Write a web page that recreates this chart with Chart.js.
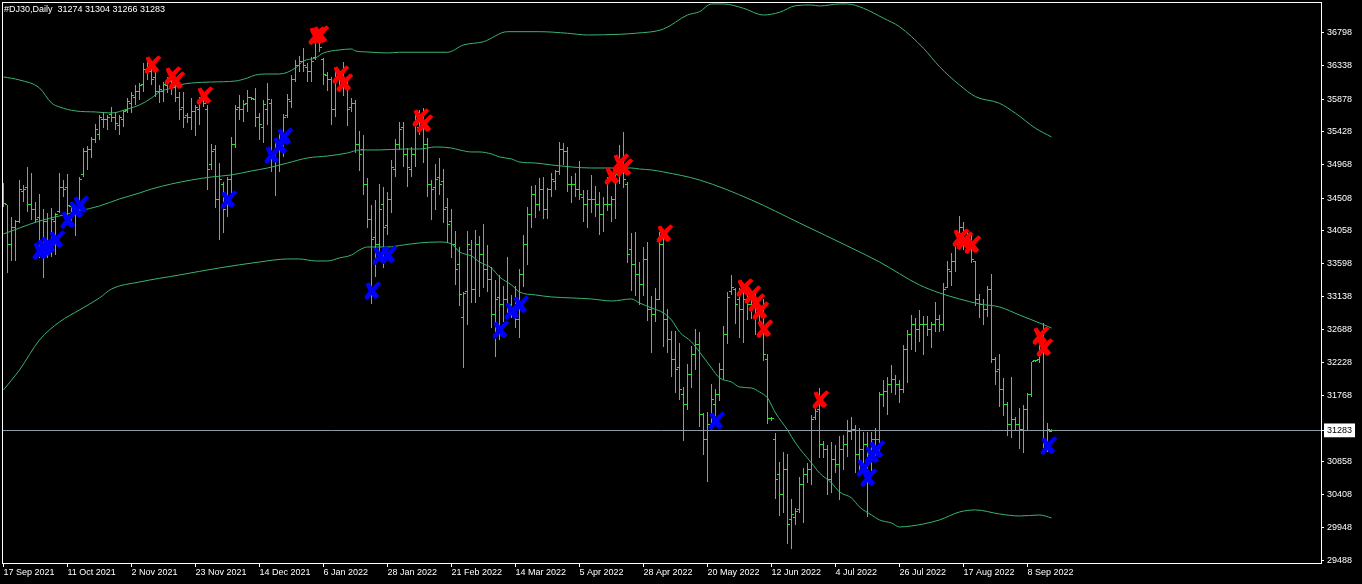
<!DOCTYPE html>
<html>
<head>
<meta charset="utf-8">
<script src="https://cdn.jsdelivr.net/npm/chart.js@4.4.0/dist/chart.umd.min.js"></script>
<style>
  html, body { margin: 0; padding: 0; background: #000; }
  #wrap { position: relative; width: 1362px; height: 584px; background: #000; overflow: hidden; }
  #title { position: absolute; left: 4px; top: 3px; line-height: 12px; color: #fff;
           font-family: "Liberation Sans", Arial, sans-serif; font-size: 9px; white-space: pre; }
</style>
</head>
<body>
<div id="wrap">
  <canvas id="djChart" width="1362" height="584"></canvas>
  <div id="title"></div>
</div>
<script>
// x axis labels, one every 16 bars
const tickLabels = ["17 Sep 2021", "11 Oct 2021", "2 Nov 2021", "23 Nov 2021", "14 Dec 2021", "6 Jan 2022",
  "28 Jan 2022", "21 Feb 2022", "14 Mar 2022", "5 Apr 2022", "28 Apr 2022", "20 May 2022", "12 Jun 2022",
  "4 Jul 2022", "26 Jul 2022", "17 Aug 2022", "8 Sep 2022"];
const tickIdx = [0, 16, 32, 48, 64, 80, 96, 112, 128, 144, 160, 176, 192, 208, 224, 240, 256];

// price scale labels
const yTicks = [36798, 36338, 35878, 35428, 34968, 34508, 34058, 33598, 33138, 32688, 32228, 31768,
  30858, 30408, 29948, 29488];

// daily bars
const opens = [
  34675, 34412, 33858, 34093, 34176, 34592, 34647, 34412, 34343, 34232, 33789, 34176, 33858, 34176, 34315, 34647, 34647, 34384, 34288, 34315,
  34828, 35146, 35174, 35312, 35382, 35589, 35589, 35659, 35617, 35506, 35589, 35714, 35811, 35894, 35977, 36074, 36282, 36254, 36171, 35977,
  35977, 36060, 36115, 36032, 35894, 35755, 35645, 35617, 35700, 35728, 35866, 35728, 34966, 35174, 34481, 34689, 34412, 34758, 35243, 35755,
  35728, 35824, 35894, 35866, 35617, 35478, 35728, 35811, 35063, 35174, 35243, 35645, 35838, 36143, 36337, 36392, 36309, 36254, 36448, 36697,
  36420, 36199, 36143, 35728, 36199, 36115, 36088, 35755, 35811, 35243, 35174, 34689, 34204, 33955, 33858, 34412, 34121, 34481, 34897, 35243,
  35478, 35105, 34897, 35105, 35478, 35617, 35243, 34689, 34647, 34786, 34730, 34370, 34176, 33858, 33581, 32847, 33207, 33789, 33235, 33858,
  33720, 33512, 33373, 32889, 33124, 33027, 33096, 33027, 32958, 32819, 33443, 33858, 34274, 34551, 34412, 34620, 34343, 34620, 34730, 34869,
  35174, 35146, 34689, 34689, 34620, 34509, 34412, 34481, 34481, 34412, 34274, 34412, 34412, 34481, 34828, 35035, 34689, 33789, 33581, 33443,
  33304, 33650, 32958, 32889, 33096, 33858, 32819, 32542, 32265, 32154, 31781, 31642, 32058, 32335, 32473, 31504, 31157, 31365, 31642, 31781,
  32127, 32612, 33207, 33235, 33096, 32958, 33096, 33027, 33096, 32889, 32958, 32265, 31448, 31157, 30673, 30396, 30742, 30049, 30077, 30188,
  30534, 30673, 30742, 31462, 31573, 31088, 31019, 30603, 30880, 30811, 31019, 31088, 31268, 31296, 30950, 31019, 31088, 30950, 31157, 31157,
  31781, 31822, 31919, 31988, 31919, 31850, 32404, 32612, 32750, 32681, 32750, 32750, 32681, 32750, 32819, 32750, 33262, 33484, 33622, 33858,
  34093, 33955, 33927, 33622, 33096, 33027, 32958, 33235, 32265, 32127, 31850, 31642, 31365, 31434, 31365, 31296, 31573, 31781, 32251, 32265,
  32542, 31088, 31274];
const highs = [
  34716, 34412, 34246, 34204, 34758, 34689, 34938, 34855, 34453, 34565, 34356, 34301, 34370, 34301, 34855, 34758, 34842, 34453, 34412, 34800,
  35201, 35229, 35354, 35534, 35659, 35700, 35659, 35769, 35700, 35659, 35728, 35894, 35977, 36074, 36101, 36378, 36448, 36323, 36254, 36074,
  36115, 36185, 36254, 36143, 35977, 35977, 35686, 35894, 35797, 35908, 35894, 35797, 35257, 35243, 34993, 34730, 34800, 35354, 35797, 35936,
  35866, 36005, 35908, 36032, 35686, 35866, 36101, 35880, 35312, 35409, 35673, 35950, 36213, 36420, 36476, 36586, 36378, 36462, 36808, 36836,
  36448, 36254, 36185, 36309, 36254, 36392, 36171, 35894, 35866, 35437, 35382, 34786, 34412, 34481, 34703, 34661, 34592, 35035, 35326, 35561,
  35561, 35201, 35215, 35686, 35728, 35755, 35340, 34758, 34980, 35063, 34910, 34509, 34356, 34052, 33830, 33207, 34052, 33927, 34066, 33983,
  34149, 33858, 33553, 33373, 33443, 33290, 33692, 33166, 33290, 33525, 33997, 34384, 34675, 34689, 34786, 34800, 34647, 34855, 34897, 35284,
  35270, 35215, 34814, 34855, 35021, 34620, 34620, 34828, 34675, 34592, 34523, 34800, 34537, 34924, 35243, 35423, 34730, 34024, 34038, 33622,
  33830, 33899, 33152, 33262, 34038, 33997, 32971, 32667, 32667, 32500, 31891, 32210, 32459, 32694, 32653, 31531, 31545, 31933, 31863, 32223,
  32736, 33207, 33443, 33262, 33262, 33331, 33318, 33193, 33207, 32999, 33110, 32349, 31476, 31254, 30852, 30991, 30963, 30340, 30215, 30645,
  30769, 30838, 31504, 31614, 31877, 31143, 31088, 31129, 31088, 31213, 31226, 31434, 31476, 31365, 31324, 31268, 31268, 31268, 31324, 31822,
  31988, 32030, 32196, 32058, 31988, 32473, 32681, 32889, 32847, 32958, 32875, 32875, 32791, 33068, 32889, 33331, 33636, 33747, 33927, 34260,
  34176, 34066, 34024, 33636, 33180, 33110, 33290, 33456, 32307, 32349, 32016, 31683, 32030, 31476, 31600, 31642, 31808, 32237, 32265, 32612,
  32778, 31392, 31304];
const lows = [
  34384, 33470, 33636, 33636, 34162, 34453, 34315, 34204, 34162, 33678, 33401, 33678, 33692, 33720, 34301, 34523, 34260, 34121, 33983, 34246,
  34800, 34897, 35063, 35270, 35312, 35478, 35451, 35561, 35451, 35382, 35492, 35686, 35686, 35797, 35866, 35977, 36143, 36074, 35908, 35824,
  35838, 35963, 35936, 35838, 35589, 35478, 35547, 35451, 35368, 35520, 35769, 34620, 34897, 34370, 33927, 34024, 34246, 34578, 35201, 35589,
  35561, 35700, 35866, 35492, 35312, 35270, 35520, 34869, 34537, 34869, 35077, 35617, 35755, 36115, 36254, 36254, 36115, 36115, 36420, 36531,
  36074, 35991, 35520, 35631, 35977, 35922, 35506, 35700, 35132, 34883, 34551, 34093, 33041, 33415, 33678, 33539, 33997, 34301, 34800, 35174,
  34938, 34661, 34800, 34938, 35382, 34993, 34523, 34204, 34343, 34551, 34162, 33885, 33678, 33304, 33013, 32154, 32750, 33054, 33054, 33138,
  33262, 33207, 32708, 32307, 32542, 32791, 32916, 32847, 32708, 32570, 33276, 33581, 34093, 34232, 34329, 34218, 34218, 34523, 34620, 34828,
  34966, 34592, 34439, 34523, 34481, 34176, 34093, 34301, 34246, 33997, 34038, 34329, 34176, 34218, 34703, 34647, 33608, 33221, 33152, 33027,
  33152, 32805, 32362, 32791, 33096, 32445, 32362, 32030, 31808, 31711, 31143, 31573, 31877, 32127, 31337, 30950, 30575, 31296, 31462, 31697,
  31988, 32487, 33166, 32764, 32570, 32500, 32819, 32833, 32612, 32750, 32251, 31379, 31420, 30339, 30104, 30146, 29717, 29648, 29980, 30146,
  30007, 30562, 30534, 31434, 30908, 30908, 30396, 30423, 30700, 30326, 30742, 30922, 31157, 30700, 30700, 30811, 30091, 30700, 30880, 30922,
  31614, 31504, 31808, 31781, 31669, 31808, 31946, 32404, 32376, 32514, 32335, 32597, 32431, 32653, 32653, 32667, 33262, 33290, 33484, 33789,
  33789, 33747, 33608, 33013, 32847, 32750, 32861, 32224, 31919, 31614, 31490, 31212, 31185, 31296, 31033, 30977, 31296, 31753, 32237, 32224,
  30963, 30991, 31266];
const closes = [
  34426, 33858, 34093, 34176, 34620, 34620, 34412, 34343, 34204, 33789, 34176, 33858, 34204, 34274, 34647, 34620, 34398, 34288, 34315, 34758,
  35146, 35174, 35312, 35451, 35617, 35589, 35617, 35617, 35534, 35617, 35700, 35838, 35922, 35977, 36060, 36282, 36254, 36143, 35977, 36005,
  36074, 36115, 36032, 35894, 35728, 35617, 35617, 35700, 35755, 35866, 35811, 34897, 35146, 34481, 34758, 34343, 34758, 35243, 35728, 35728,
  35797, 35894, 35880, 35617, 35520, 35797, 35866, 35035, 35174, 35312, 35617, 35866, 36143, 36337, 36392, 36337, 36254, 36392, 36669, 36586,
  36213, 36143, 35728, 36171, 36143, 36074, 35728, 35811, 35243, 35105, 34689, 34204, 33927, 33858, 34343, 34093, 34481, 34924, 35243, 35451,
  35105, 34924, 35105, 35520, 35589, 35243, 34689, 34620, 34758, 34689, 34343, 34135, 33858, 33512, 33166, 33180, 33858, 33235, 33858, 33720,
  33512, 33373, 32889, 33096, 33027, 33096, 33027, 32930, 32819, 33443, 33858, 34274, 34551, 34412, 34620, 34343, 34620, 34758, 34869, 35174,
  35146, 34689, 34689, 34620, 34551, 34412, 34481, 34481, 34412, 34274, 34412, 34412, 34481, 34828, 34966, 34758, 33720, 33581, 33443, 33304,
  33650, 32958, 32889, 33096, 33858, 32819, 32542, 32265, 32127, 31850, 31642, 32058, 32335, 32473, 31504, 31157, 31365, 31711, 31781, 32127,
  32612, 33124, 33262, 33027, 32958, 33096, 33027, 33096, 32889, 32889, 32335, 31448, 31448, 30603, 30396, 30742, 29980, 30118, 30160, 30534,
  30673, 30742, 31434, 31545, 31088, 31019, 30603, 30880, 30811, 31019, 31088, 31268, 31296, 30950, 31019, 31088, 30950, 31157, 31157, 31781,
  31822, 31919, 31988, 31919, 31850, 32404, 32612, 32750, 32681, 32750, 32750, 32681, 32750, 32819, 32750, 33235, 33512, 33622, 33858, 34093,
  33955, 33927, 33650, 33096, 33027, 32958, 33235, 32265, 32099, 31850, 31642, 31365, 31434, 31365, 31296, 31573, 31781, 32237, 32251, 32542,
  31088, 31296, 31283];

// envelope lines, [bar, price]
const upperBand = [[0,36185],[4,36143],[9,36032],[12,35824],[14,35769],[18,35714],[23,35700],[27,35686],[31,35741],[34,35797],
  [37,35894],[39,35977],[42,36032],[44,36074],[47,36101],[52,36115],[58,36129],[61,36171],[63,36212],[66,36226],[69,36226],
  [73,36309],[75,36406],[78,36448],[80,36517],[84,36559],[87,36572],[88,36545],[91,36531],[96,36517],[99,36527],[111,36527],
  [115,36628],[120,36673],[126,36812],[134,36812],[141,36790],[146,36766],[154,36776],[158,36790],[165,36849],[171,37043],
  [174,37089],[177,37196],[180,37196],[185,37136],[190,37043],[194,37081],[198,37172],[202,37182],[204,37168],[209,37196],
  [211,37196],[215,37136],[220,36998],[224,36881],[230,36582],[234,36327],[239,36074],[243,35912],[249,35820],[253,35682],
  [258,35474],[262,35354]];
const middleBand = [[0,34010],[4,34093],[9,34190],[14,34260],[19,34329],[24,34398],[29,34495],[34,34578],[37,34633],[42,34703],
  [47,34758],[52,34800],[57,34828],[62,34883],[66,34924],[71,34993],[76,35063],[81,35090],[86,35132],[89,35174],[94,35174],
  [100,35187],[104,35187],[108,35215],[112,35201],[114,35174],[117,35146],[119,35146],[122,35118],[124,35077],[127,35049],
  [129,35007],[133,34993],[137,34966],[142,34938],[147,34924],[152,34924],[157,34924],[159,34910],[162,34897],[165,34869],
  [174,34758],[187,34481],[199,34162],[212,33816],[219,33622],[229,33304],[234,33193],[239,33110],[244,33041],[249,32999],
  [254,32888],[259,32778],[262,32708]];
const lowerBand = [[0,31850],[4,32127],[9,32542],[14,32792],[19,32958],[24,33124],[27,33248],[34,33345],[44,33442],[54,33540],
  [64,33622],[71,33664],[74,33664],[78,33636],[81,33636],[84,33678],[87,33719],[89,33789],[91,33830],[96,33830],[100,33858],
  [104,33886],[109,33899],[112,33872],[114,33761],[117,33705],[119,33622],[122,33539],[124,33415],[127,33304],[129,33207],
  [133,33166],[137,33138],[142,33124],[147,33110],[152,33082],[157,33110],[159,33055],[162,32985],[165,32916],[167,32819],
  [169,32653],[172,32514],[174,32376],[177,32154],[179,32016],[182,31960],[184,31891],[187,31877],[189,31822],[191,31739],
  [193,31531],[196,31296],[198,31115],[202,30838],[204,30700],[207,30562],[209,30437],[212,30354],[214,30229],[217,30118],
  [219,30049],[222,30007],[224,29952],[227,29966],[230,29994],[234,30049],[239,30160],[243,30188],[249,30132],[254,30104],
  [259,30118],[262,30077]];

// signal arrows
const redIdx = [37, 42, 43, 50, 78, 79, 84, 85, 104, 105, 152, 154, 155, 165, 185, 187, 188, 189, 190, 204, 239, 240, 242, 259, 260];
const redVal = [36327, 36167, 36106, 35890, 36730, 36740, 36189, 36074, 35590, 35500, 34786, 34966, 34897, 33982, 33230, 33140,
  33030, 32910, 32660, 31688, 33930, 33880, 33830, 32566, 32404];
const blueIdx = [9, 10, 11, 13, 16, 18, 19, 56, 67, 69, 70, 92, 94, 96, 124, 127, 129, 178, 215, 216, 217, 218, 261];
const blueVal = [33740, 33790, 33830, 33900, 34176, 34315, 34384, 34458, 35080, 35200, 35330, 33189, 33674, 33697, 32648, 32912,
  33003, 31397, 30742, 30603, 30926, 30995, 31042];

const barGreen = "#2fe02f";
const bandGreen = "#3cb371";
const last = closes.length - 1;
const lastPrice = closes[last];

document.getElementById("title").textContent =
  "#DJ30,Daily  " + opens[last] + " " + highs[last] + " " + lows[last] + " " + closes[last];

// small horizontal tick, left (open) or right (close) of the bar
function tickImage(side) {
  const c = document.createElement("canvas");
  c.width = 5; c.height = 1;
  const g = c.getContext("2d");
  g.fillStyle = barGreen;
  g.fillRect(side === "open" ? 0 : 3, 0, 2, 1);
  return c;
}

function crossImage(color) {
  const c = document.createElement("canvas");
  c.width = 30; c.height = 30;
  const g = c.getContext("2d");
  g.fillStyle = color;
  g.font = 'bold 25px "DejaVu Sans"';
  g.textAlign = "center";
  g.textBaseline = "middle";
  g.fillText("\u2718", 15, 15);
  g.fillText("\u2718", 15.8, 15);
  return c;
}

const pixelSnap = {
  id: "pixelSnap",
  beforeDatasetsDraw(chart) { chart.ctx.imageSmoothingEnabled = false; }
};

const frame = {
  id: "frame",
  afterDraw(chart) {
    const a = chart.chartArea, ctx = chart.ctx;
    ctx.save();
    ctx.strokeStyle = "#fff";
    ctx.lineWidth = 1;
    ctx.strokeRect(Math.floor(a.left) + 0.5, Math.floor(a.top) + 0.5, Math.round(a.right - a.left), Math.round(a.bottom - a.top));
    ctx.restore();
  }
};

const axisFont = { family: "Liberation Sans", size: 9 };

new Chart(document.getElementById("djChart"), {
  type: "bar",
  data: {
    datasets: [
      { type: "scatter", label: "sell", data: redIdx.map((x, i) => ({ x: x, y: redVal[i] })),
        pointStyle: crossImage("#ff0000"), order: 0 },
      { type: "scatter", label: "buy", data: blueIdx.map((x, i) => ({ x: x, y: blueVal[i] })),
        pointStyle: crossImage("#0000ff"), order: 0 },
      { type: "line", label: "upper", data: upperBand.map(p => ({ x: p[0], y: p[1] })), borderColor: bandGreen,
        borderWidth: 1, pointRadius: 0, fill: false, cubicInterpolationMode: "monotone", order: 1 },
      { type: "line", label: "middle", data: middleBand.map(p => ({ x: p[0], y: p[1] })), borderColor: bandGreen,
        borderWidth: 1, pointRadius: 0, fill: false, cubicInterpolationMode: "monotone", order: 1 },
      { type: "line", label: "lower", data: lowerBand.map(p => ({ x: p[0], y: p[1] })), borderColor: bandGreen,
        borderWidth: 1, pointRadius: 0, fill: false, cubicInterpolationMode: "monotone", order: 1 },
      { type: "scatter", label: "open", data: opens.map((y, x) => ({ x: x, y: y })), pointStyle: tickImage("open"), order: 2 },
      { type: "scatter", label: "close", data: closes.map((y, x) => ({ x: x, y: y })), pointStyle: tickImage("close"), order: 2 },
      { type: "bar", label: "range", data: highs.map((h, x) => ({ x: x, y: [lows[x], h] })), backgroundColor: barGreen,
        borderWidth: 0, barThickness: 1, inflateAmount: 0, order: 3 }
    ]
  },
  options: {
    responsive: false,
    animation: false,
    devicePixelRatio: 1,
    layout: { autoPadding: false, padding: { left: 2, top: 2, right: 0, bottom: 0 } },
    plugins: { legend: { display: false }, tooltip: { enabled: false } },
    scales: {
      x: {
        type: "linear", min: -0.375, max: 329.375, offset: false,
        afterBuildTicks: s => { s.ticks = tickIdx.map(v => ({ value: v })); },
        afterFit: s => { s.height = 21; s.paddingLeft = 0; s.paddingRight = 0; },
        border: { display: false },
        grid: { drawOnChartArea: false, offset: false, tickColor: "#fff", tickLength: 4 },
        ticks: { color: "#fff", font: axisFont, align: "start", autoSkip: false, maxRotation: 0, padding: 0,
          callback: (v, i) => tickLabels[i] }
      },
      y: {
        position: "right", min: 29453, max: 37223,
        afterBuildTicks: s => {
          s.ticks = yTicks.concat([lastPrice]).sort((a, b) => a - b).map(v => ({ value: v }));
        },
        afterFit: s => { s.width = 41; s.paddingTop = 0; s.paddingBottom = 0; },
        border: { display: false },
        grid: {
          color: c => (c.tick && c.tick.value === lastPrice ? "#8e9aa6" : "rgba(0,0,0,0)"),
          tickColor: "#fff", tickLength: 3
        },
        ticks: {
          color: c => (c.tick && c.tick.value === lastPrice ? "#000" : "#fff"),
          font: axisFont, padding: 3, autoSkip: false,
          callback: v => String(v),
          showLabelBackdrop: c => !!(c.tick && c.tick.value === lastPrice),
          backdropColor: "#fff",
          backdropPadding: { left: 3, right: 3, top: 2, bottom: 1 }
        }
      }
    }
  },
  plugins: [pixelSnap, frame]
});
</script>
</body>
</html>
